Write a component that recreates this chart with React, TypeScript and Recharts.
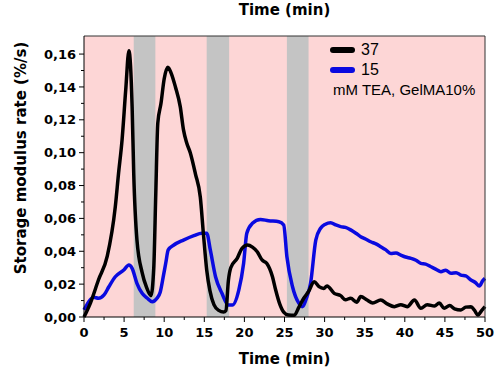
import React from 'react';
import { ComposedChart, Line, XAxis, YAxis, ReferenceArea, Legend } from 'recharts';

// 37 mM TEA series (black)
const time37 = [
  0, 0.8, 1.8, 2.9, 3.9, 4.3, 4.75, 5.2, 5.6, 6.0, 6.2, 6.6, 7.25, 7.8, 8.35, 8.7, 8.95, 9.2, 9.6, 10.0,
  10.45, 10.9, 11.4, 12.0, 12.4, 12.8, 13.25, 13.9, 14.5, 14.9, 15.3, 15.7, 16.2, 16.8, 17.4, 17.7, 18.0,
  18.3, 19.1, 19.7, 20.4, 21.0, 21.6, 22.2, 22.8, 23.5, 23.9, 24.4, 24.9, 25.5, 26.2, 26.8, 27.4, 28.0,
  28.7, 29.3, 29.9, 30.3, 31.2, 32.0, 32.6, 33.25, 34.0, 34.5, 35.3, 36.0, 37.0, 37.8, 38.7, 39.5, 40.3,
  41.2, 42.0, 42.8, 43.7, 44.3, 44.9, 45.6, 46.2, 47.0, 47.6, 48.25, 48.7, 49.1, 49.6, 50,
];
const rate37 = [
  0, 0.0085, 0.0225, 0.037, 0.067, 0.087, 0.108, 0.138, 0.162, 0.128, 0.0875, 0.047, 0.027, 0.018, 0.013,
  0.03, 0.075, 0.118, 0.13, 0.145, 0.152, 0.148, 0.14, 0.128, 0.114, 0.106, 0.1, 0.087, 0.073, 0.05,
  0.0286, 0.016, 0.0075, 0.004, 0.003, 0.004, 0.022, 0.03, 0.0357, 0.0418, 0.0438, 0.0425, 0.0397, 0.0347,
  0.0326, 0.0245, 0.0164, 0.008, 0.003, 0.0012, 0.001, 0.006, 0.0114, 0.0155, 0.0215, 0.0185, 0.0174,
  0.0189, 0.0144, 0.013, 0.0105, 0.0114, 0.009, 0.0124, 0.0103, 0.0085, 0.0103, 0.008, 0.0063, 0.0075,
  0.0063, 0.0103, 0.0053, 0.0075, 0.0067, 0.0085, 0.0053, 0.007, 0.005, 0.0043, 0.006, 0.0063, 0.004,
  0.0012, 0.004, 0.0063,
];

// 15 mM TEA series (blue)
const time15 = [
  0, 0.6, 1.2, 1.8, 2.5, 3.1, 3.9, 4.96, 5.6, 6.0, 6.6, 7.25, 7.9, 8.5, 9.1, 9.5, 9.9, 10.2, 10.5, 11.2,
  12.4, 13.7, 14.7, 15.3, 15.75, 16.4, 17.2, 18.0, 18.5, 19.3, 19.9, 20.3, 21.0, 22.0, 23.0, 24.3, 24.9,
  25.3, 26.0, 26.8, 27.2, 27.8, 28.25, 28.9, 29.5, 30.1, 30.75, 31.4, 32.0, 32.6, 33.25, 33.9, 34.5, 35.1,
  35.75, 36.4, 37.0, 37.6, 38.25, 38.9, 39.5, 40.1, 40.75, 41.4, 42.0, 42.6, 43.25, 43.9, 44.5, 45.1,
  45.75, 46.4, 47.0, 47.6, 48.25, 48.8, 49.3, 49.7, 50,
];
const rate15 = [
  0.0043, 0.0093, 0.012, 0.0114, 0.0134, 0.0184, 0.0245, 0.0286, 0.0316, 0.0296, 0.0205, 0.0144, 0.0114,
  0.0093, 0.0114, 0.015, 0.025, 0.033, 0.0408, 0.0438, 0.0468, 0.0495, 0.051, 0.051, 0.0408, 0.0245,
  0.0144, 0.0073, 0.0073, 0.0164, 0.0326, 0.051, 0.057, 0.0594, 0.0586, 0.058, 0.056, 0.0367, 0.0184,
  0.0083, 0.0063, 0.0124, 0.0205, 0.0468, 0.054, 0.0565, 0.0574, 0.056, 0.055, 0.0545, 0.053, 0.051,
  0.0489, 0.0475, 0.0458, 0.0445, 0.0428, 0.041, 0.0387, 0.039, 0.0377, 0.0365, 0.0357, 0.0345, 0.0326,
  0.0322, 0.0306, 0.029, 0.0276, 0.0285, 0.0266, 0.027, 0.0255, 0.025, 0.0225, 0.021, 0.0189, 0.022,
  0.0235,
];

const grayBands = [
  [6.2, 8.9],
  [15.3, 18.1],
  [25.3, 28.0],
];
const xTicks = [0, 2.5, 5, 7.5, 10, 12.5, 15, 17.5, 20, 22.5, 25, 27.5, 30, 32.5, 35, 37.5, 40, 42.5, 45, 47.5, 50];
const yTicks = [0, 0.01, 0.02, 0.03, 0.04, 0.05, 0.06, 0.07, 0.08, 0.09, 0.1, 0.11, 0.12, 0.13, 0.14, 0.15, 0.16];
const seriesNames = ['37', '15'];
const legendNote = 'mM TEA, GelMA10%';

const data37 = time37.map((t, i) => ({ t, v: rate37[i] }));
const data15 = time15.map((t, i) => ({ t, v: rate15[i] }));

const AXIS_FONT = '"DejaVu Sans", sans-serif';
const TICK_SIZE = 5;
const X_TICK_MARGIN = 6;
const Y_TICK_MARGIN = 3;
const BLUE = '#0a0ae0';

const XTick = (props: any) => {
  const { x, y, payload } = props;
  const major = payload.value % 5 === 0;
  const y0 = y - TICK_SIZE - X_TICK_MARGIN;
  return (
    <g>
      <line x1={x} x2={x} y1={y0} y2={y0 + (major ? TICK_SIZE : 3)} stroke="#000" />
      {major && (
        <text x={x} y={y} dy="0.71em" textAnchor="middle" fontFamily={AXIS_FONT} fontWeight="bold" fontSize={13} fill="#000">
          {payload.value}
        </text>
      )}
    </g>
  );
};

const YTick = (props: any) => {
  const { x, y, payload } = props;
  const major = Math.round(payload.value * 100) % 2 === 0;
  const x0 = x + TICK_SIZE + Y_TICK_MARGIN;
  return (
    <g>
      <line x1={x0} x2={x0 - (major ? TICK_SIZE : 3)} y1={y} y2={y} stroke="#000" />
      {major && (
        <text x={x} y={y} dy="0.355em" textAnchor="end" fontFamily={AXIS_FONT} fontWeight="bold" fontSize={13} fill="#000">
          {payload.value.toFixed(2).replace('.', ',')}
        </text>
      )}
    </g>
  );
};

const LegendBox = () => (
  <div style={{ fontFamily: '"Liberation Sans", Arial, sans-serif', color: '#000' }}>
    {seriesNames.map((name, i) => (
      <div key={name} style={{ display: 'flex', alignItems: 'center', height: 20 }}>
        <div style={{ width: 25, height: 6, borderRadius: 3, background: i === 0 ? '#000' : BLUE, marginRight: 6 }} />
        <span style={{ fontSize: 16 }}>{name}</span>
      </div>
    ))}
    <div style={{ fontSize: 15, marginLeft: 3, lineHeight: '20px' }}>{legendNote}</div>
  </div>
);

export default function App() {
  return (
    <div style={{ position: 'absolute', left: 0, top: 0, width: 498, height: 375, background: '#fff' }}>
      <ComposedChart width={498} height={375} margin={{ top: 0, right: 0, bottom: 0, left: 0 }}>
        <XAxis
          xAxisId="top"
          orientation="top"
          type="number"
          dataKey="t"
          domain={[0, 50]}
          height={36}
          tick={false}
          tickLine={false}
          axisLine={{ stroke: '#333' }}
          label={{ value: 'Time (min)', position: 'insideTop', offset: 4, fontFamily: AXIS_FONT, fontWeight: 'bold', fontSize: 15, fill: '#000' }}
        />
        <XAxis
          type="number"
          dataKey="t"
          domain={[0, 50]}
          ticks={xTicks}
          interval={0}
          height={58}
          tickSize={TICK_SIZE}
          tickMargin={X_TICK_MARGIN}
          tickLine={false}
          tick={<XTick />}
          axisLine={{ stroke: '#000' }}
          label={{ value: 'Time (min)', position: 'insideBottom', offset: 11, fontFamily: AXIS_FONT, fontWeight: 'bold', fontSize: 15, fill: '#000' }}
        />
        <YAxis
          type="number"
          domain={[0, 0.171]}
          ticks={yTicks}
          interval={0}
          width={84}
          tickSize={TICK_SIZE}
          tickMargin={Y_TICK_MARGIN}
          tickLine={false}
          tick={<YTick />}
          axisLine={{ stroke: '#000' }}
        />
        <YAxis
          yAxisId="right"
          orientation="right"
          type="number"
          domain={[0, 0.171]}
          width={13}
          tick={false}
          tickLine={false}
          axisLine={{ stroke: '#333' }}
        />
        <ReferenceArea x1={0} x2={50} y1={0} y2={0.171} fill="#fdd6d6" fillOpacity={1} stroke="none" />
        {grayBands.map(([a, b]) => (
          <ReferenceArea key={a} x1={a} x2={b} y1={0} y2={0.171} fill="#c4c4c4" fillOpacity={1} stroke="none" />
        ))}
        <Line
          data={data15}
          dataKey="v"
          name={seriesNames[1]}
          type="monotone"
          stroke={BLUE}
          strokeWidth={3.5}
          dot={false}
          isAnimationActive={false}
        />
        <Line
          data={data37}
          dataKey="v"
          name={seriesNames[0]}
          type="monotone"
          stroke="#000"
          strokeWidth={3.5}
          dot={false}
          isAnimationActive={false}
        />
        <Legend
          layout="vertical"
          align="center"
          verticalAlign="middle"
          content={<LegendBox />}
          wrapperStyle={{ left: 330, top: 40, width: 165 }}
        />
      </ComposedChart>
      <div
        style={{
          position: 'absolute',
          left: 21,
          top: 158,
          transform: 'translate(-50%, -50%) rotate(-90deg)',
          whiteSpace: 'nowrap',
          fontFamily: AXIS_FONT,
          fontWeight: 'bold',
          fontSize: 15,
          color: '#000',
        }}
      >
        Storage modulus rate (%/s)
      </div>
    </div>
  );
}
